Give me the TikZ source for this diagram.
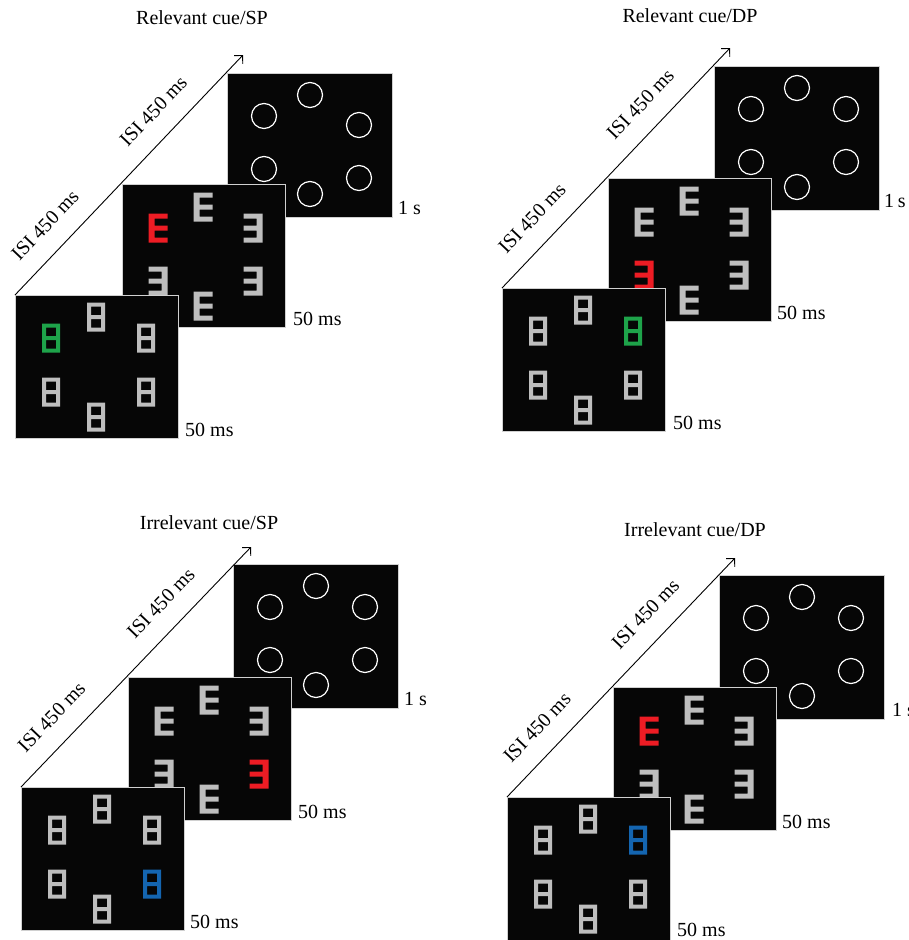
\documentclass[tikz,border=0pt]{standalone}
\usepackage{fontspec}
\setmainfont{Liberation Serif}
\usetikzlibrary{arrows.meta,calc}
\definecolor{glyphgray}{HTML}{BEBEBE}
\definecolor{cuered}{HTML}{ED1C24}
\definecolor{cuegreen}{HTML}{1EA34A}
\definecolor{cueblue}{HTML}{1465B0}
\definecolor{screenblack}{HTML}{060606}
\definecolor{rim}{HTML}{D0D0D0}
\tikzset{
  screenbox/.style={draw=rim, line width=1pt, fill=screenblack, anchor=north west,
    inner sep=0pt, minimum width=163pt, minimum height=143pt},
  backbox/.style={screenbox, minimum width=165pt, minimum height=144pt},
  timeline/.style={line width=0.9pt, -{Straight Barb[length=6pt,width=12pt]}},
  isi/.style={sloped, above=19pt, inner sep=0pt},
  durlabel/.style={anchor=base west, inner sep=0pt},
  paneltitle/.style={anchor=base, inner sep=0pt},
  pics/eglyph/.style={code={\fill[#1] (-9.5,-14.5) -- (9.5,-14.5) -- (9.5,-9.5) -- (-3.5,-9.5)
     -- (-3.5,-2.5) -- (9.5,-2.5) -- (9.5,2.5) -- (-3.5,2.5) -- (-3.5,9.5) -- (9.5,9.5)
     -- (9.5,14.5) -- (-9.5,14.5) -- cycle;}},
  pics/rglyph/.style={code={\fill[#1] (9.5,-14.5) -- (-9.5,-14.5) -- (-9.5,-9.5) -- (3.5,-9.5)
     -- (3.5,-2.5) -- (-9.5,-2.5) -- (-9.5,2.5) -- (3.5,2.5) -- (3.5,9.5) -- (-9.5,9.5)
     -- (-9.5,14.5) -- (9.5,14.5) -- cycle;}},
  pics/eightglyph/.style={code={\fill[#1, even odd rule] (-9,-14.5) rectangle (9,14.5)
     (-5,-10.5) rectangle (5,-2) (-5,2) rectangle (5,10.5);}},
  pics/ring/.style={code={\draw[white, line width=1.2pt] (0,0) circle[radius=12.5];}}
}
\newcommand{\ringset}[3]{%
  \begin{scope}[shift={(#1.north west)}]
    \path (83,22) pic{ring} (37,43) pic{ring} (132,#2) pic{ring}
          (37,96) pic{ring} (132,#3) pic{ring} (83,121) pic{ring};
  \end{scope}}
\newcommand{\letterset}[7]{%
  \begin{scope}[shift={(#1.north west)}]
    \path (81,23) pic{eglyph=#2} (36,44) pic{eglyph=#3} (131,44) pic{rglyph=#4}
          (36,97) pic{rglyph=#5} (131,97) pic{rglyph=#6} (81,122) pic{eglyph=#7};
  \end{scope}}
\newcommand{\eightset}[7]{%
  \begin{scope}[shift={(#1.north west)}]
    \path (81,22) pic{eightglyph=#2} (36,43) pic{eightglyph=#3} (131,43) pic{eightglyph=#4}
          (36,97) pic{eightglyph=#5} (131,97) pic{eightglyph=#6} (81,122) pic{eightglyph=#7};
  \end{scope}}
\begin{document}
\begin{tikzpicture}[x=1pt, y=-1pt, font=\fontsize{20}{24}\selectfont]
\useasboundingbox (0,0) rectangle (908,940);

% ---------------- Panel 1: Relevant cue/SP ----------------
\node[paneltitle] (t1) at (202,24) {Relevant cue/SP};
\node[backbox] (b1) at (227,73) {};
\ringset{b1}{52}{105}
\node[screenbox] (m1) at (122,184) {};
\letterset{m1}{glyphgray}{cuered}{glyphgray}{glyphgray}{glyphgray}{glyphgray}
\node[screenbox] (f1) at (15,295) {};
\eightset{f1}{glyphgray}{cuegreen}{glyphgray}{glyphgray}{glyphgray}{glyphgray}
\coordinate (e1) at ($(f1.north west)+(228,-240)$);
\draw[timeline] (f1.north west) -- (e1)
  node[isi, pos=0.215] (i1a) {ISI 450 ms}
  node[isi, pos=0.69] (i1b) {ISI 450 ms};
\node[durlabel] (d1a) at ([xshift=5pt, yshift=4pt]b1.south east) {1 s};
\node[durlabel] (d1b) at ([xshift=7pt, yshift=3pt]m1.south east) {50 ms};
\node[durlabel] (d1c) at ([xshift=6pt, yshift=3pt]f1.south east) {50 ms};

% ---------------- Panel 2: Relevant cue/DP ----------------
\node[paneltitle] (t2) at (690,22) {Relevant cue/DP};
\node[backbox] (b2) at (714,66) {};
\ringset{b2}{43}{96}
\node[screenbox] (m2) at (608,178) {};
\letterset{m2}{glyphgray}{glyphgray}{glyphgray}{cuered}{glyphgray}{glyphgray}
\node[screenbox] (f2) at (502,288) {};
\eightset{f2}{glyphgray}{glyphgray}{cuegreen}{glyphgray}{glyphgray}{glyphgray}
\coordinate (e2) at ($(f2.north west)+(228,-240)$);
\draw[timeline] (f2.north west) -- (e2)
  node[isi, pos=0.215] (i2a) {ISI 450 ms}
  node[isi, pos=0.69] (i2b) {ISI 450 ms};
\node[durlabel] (d2a) at ([xshift=4pt, yshift=4pt]b2.south east) {1\kern0.18em s};
\node[durlabel] (d2b) at ([xshift=5pt, yshift=3pt]m2.south east) {50 ms};
\node[durlabel] (d2c) at ([xshift=7pt, yshift=3pt]f2.south east) {50 ms};

% ---------------- Panel 3: Irrelevant cue/SP ----------------
\node[paneltitle] (t3) at (209,529) {Irrelevant cue/SP};
\node[backbox] (b3) at (233,564) {};
\ringset{b3}{43}{96}
\node[screenbox] (m3) at (128,677) {};
\letterset{m3}{glyphgray}{glyphgray}{glyphgray}{glyphgray}{cuered}{glyphgray}
\node[screenbox] (f3) at (21,787) {};
\eightset{f3}{glyphgray}{glyphgray}{glyphgray}{glyphgray}{cueblue}{glyphgray}
\coordinate (e3) at ($(f3.north west)+(230,-240)$);
\draw[timeline] (f3.north west) -- (e3)
  node[isi, pos=0.215] (i3a) {ISI 450 ms}
  node[isi, pos=0.69] (i3b) {ISI 450 ms};
\node[durlabel] (d3a) at ([xshift=5pt, yshift=4pt]b3.south east) {1 s};
\node[durlabel] (d3b) at ([xshift=6pt, yshift=3pt]m3.south east) {50 ms};
\node[durlabel] (d3c) at ([xshift=5pt, yshift=3pt]f3.south east) {50 ms};

% ---------------- Panel 4: Irrelevant cue/DP ----------------
\node[paneltitle] (t4) at (695,536) {Irrelevant cue/DP};
\node[backbox] (b4) at (719,575) {};
\ringset{b4}{43}{96}
\node[screenbox] (m4) at (613,687) {};
\letterset{m4}{glyphgray}{cuered}{glyphgray}{glyphgray}{glyphgray}{glyphgray}
\node[screenbox] (f4) at (507,797) {};
\eightset{f4}{glyphgray}{glyphgray}{cueblue}{glyphgray}{glyphgray}{glyphgray}
\coordinate (e4) at ($(f4.north west)+(228,-239)$);
\draw[timeline] (f4.north west) -- (e4)
  node[isi, pos=0.215] (i4a) {ISI 450 ms}
  node[isi, pos=0.69] (i4b) {ISI 450 ms};
\node[durlabel] (d4a) at ([xshift=7pt, yshift=4pt]b4.south east) {1 s};
\node[durlabel] (d4b) at ([xshift=5pt, yshift=3pt]m4.south east) {50 ms};
\node[durlabel] (d4c) at ([xshift=6pt, yshift=5pt]f4.south east) {50 ms};
\end{tikzpicture}
\end{document}
